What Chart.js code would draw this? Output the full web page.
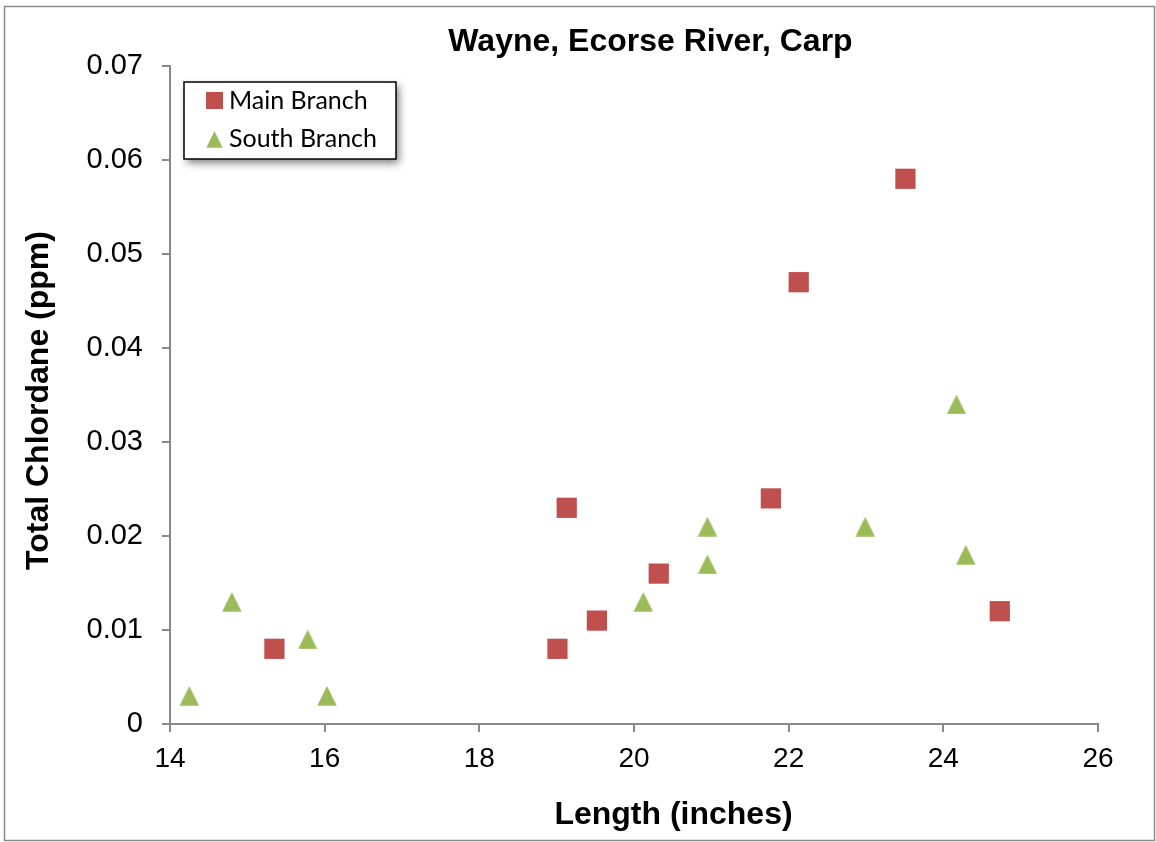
<!DOCTYPE html>
<html><head><meta charset="utf-8">
<script src="https://cdn.jsdelivr.net/npm/chart.js@4/dist/chart.umd.min.js"></script>
<style>html,body{margin:0;padding:0;background:#fff;}#wrap{width:1156px;height:842px;position:relative;}</style>
</head><body><div id="wrap"><canvas id="c" width="1156" height="842"></canvas></div>
<script>
const chartTitle = 'Wayne, Ecorse River, Carp';
const xAxisTitle = 'Length (inches)';
const yAxisTitle = 'Total Chlordane (ppm)';
const seriesNames = ['Main Branch', 'South Branch'];
const mainX = [15.35, 19.01, 19.13, 19.52, 20.32, 21.77, 22.13, 23.51, 24.73];
const mainY = [0.008, 0.008, 0.023, 0.011, 0.016, 0.024, 0.047, 0.058, 0.012];
const southX = [14.25, 14.80, 15.78, 16.03, 20.12, 20.95, 20.95, 22.99, 24.17, 24.29];
const southY = [0.003, 0.013, 0.009, 0.003, 0.013, 0.021, 0.017, 0.021, 0.034, 0.018];
const xTicks = [14, 16, 18, 20, 22, 24, 26];
const yTicks = [0, 0.01, 0.02, 0.03, 0.04, 0.05, 0.06, 0.07];
const yTickLabels = ['0', '0.01', '0.02', '0.03', '0.04', '0.05', '0.06', '0.07'];

const RED = '#C0504D', GREEN = '#9BBB59', AXIS = '#898989';
const FONT = '"Liberation Sans", Arial, sans-serif';

function makeTriangle(size, color) {
  const c = document.createElement('canvas');
  c.width = size; c.height = size;
  const g = c.getContext('2d');
  g.fillStyle = color;
  g.beginPath();
  g.moveTo(size / 2, 0.3);
  g.lineTo(size - 0.3, size - 0.3);
  g.lineTo(0.3, size - 0.3);
  g.closePath();
  g.fill();
  return c;
}
const triMarker = makeTriangle(20, GREEN);
const triLegend = makeTriangle(17, GREEN);

const toPts = (xs, ys) => xs.map((x, i) => ({x: x, y: ys[i]}));

const framePlugin = {
  id: 'frame',
  beforeDraw(chart) {
    const ctx = chart.ctx;
    ctx.save();
    ctx.fillStyle = '#fff';
    ctx.fillRect(0, 0, chart.width, chart.height);
    ctx.strokeStyle = '#8c8c8c';
    ctx.lineWidth = 1.5;
    ctx.strokeRect(4.5, 6.5, 1150, 834);
    ctx.restore();
  },
  afterDraw(chart) {
    const ctx = chart.ctx;
    ctx.save();
    ctx.fillStyle = '#000';
    ctx.textAlign = 'center';
    ctx.textBaseline = 'middle';
    // chart title
    ctx.font = 'bold 32px ' + FONT;
    ctx.fillText(chartTitle, 650.5, 42);
    // x axis title
    ctx.fillText(xAxisTitle, 673.5, 815.6);
    // y axis title
    ctx.save();
    ctx.translate(39.6, 400.5);
    ctx.rotate(-Math.PI / 2);
    ctx.fillText(yAxisTitle, 0, 0);
    ctx.restore();
    // legend box
    const bx = 184, by = 82, bw = 212, bh = 77;
    ctx.save();
    ctx.shadowColor = 'rgba(0,0,0,0.5)';
    ctx.shadowBlur = 8;
    ctx.shadowOffsetX = 3;
    ctx.shadowOffsetY = 4;
    ctx.fillStyle = '#fff';
    ctx.fillRect(bx, by, bw, bh);
    ctx.restore();
    ctx.strokeStyle = '#000';
    ctx.lineWidth = 1.5;
    ctx.strokeRect(bx, by, bw, bh);
    ctx.fillStyle = RED;
    ctx.fillRect(206, 92, 17, 17);
    ctx.drawImage(triLegend, 206, 131);
    ctx.fillStyle = '#000';
    ctx.font = '25px Lato, "Open Sans", sans-serif';
    ctx.textAlign = 'left';
    ctx.fillText(chart.data.datasets[0].label, 229, 101);
    ctx.fillText(chart.data.datasets[1].label, 229, 139);
    ctx.restore();
  }
};

new Chart(document.getElementById('c'), {
  type: 'scatter',
  data: {
    datasets: [
      {label: seriesNames[0], data: toPts(mainX, mainY), pointStyle: 'rect', pointRadius: 14.3,
       pointHoverRadius: 14.3, backgroundColor: RED, borderColor: RED, borderWidth: 0},
      {label: seriesNames[1], data: toPts(southX, southY), pointStyle: triMarker, pointRadius: 10,
       backgroundColor: GREEN, borderColor: GREEN, borderWidth: 0}
    ]
  },
  options: {
    responsive: false,
    devicePixelRatio: 1,
    animation: false,
    events: [],
    layout: {padding: {left: 0, right: 58, top: 66, bottom: 0}},
    plugins: {legend: {display: false}, title: {display: false}, tooltip: {enabled: false}},
    scales: {
      x: {
        type: 'linear', min: 14, max: 26,
        afterBuildTicks: s => { s.ticks = xTicks.map(v => ({value: v})); },
        afterFit: s => { s.height = 118; },
        grid: {drawOnChartArea: false, drawTicks: true, tickLength: 8, color: AXIS, lineWidth: 2},
        border: {color: AXIS, width: 2},
        ticks: {color: '#000', font: {family: FONT, size: 28}, padding: 10,
                maxRotation: 0, callback: v => String(v)},
        title: {display: false}
      },
      y: {
        type: 'linear', min: 0, max: 0.07,
        afterBuildTicks: s => { s.ticks = yTicks.map(v => ({value: v})); },
        afterFit: s => { s.width = 170; },
        grid: {drawOnChartArea: false, drawTicks: true, tickLength: 8, color: AXIS, lineWidth: 2},
        border: {color: AXIS, width: 2},
        ticks: {color: '#000', font: {family: FONT, size: 29}, padding: 19,
                callback: (v) => yTickLabels[yTicks.findIndex(t => Math.abs(t - v) < 1e-9)]},
        title: {display: false}
      }
    }
  },
  plugins: [framePlugin]
});
</script></body></html>
